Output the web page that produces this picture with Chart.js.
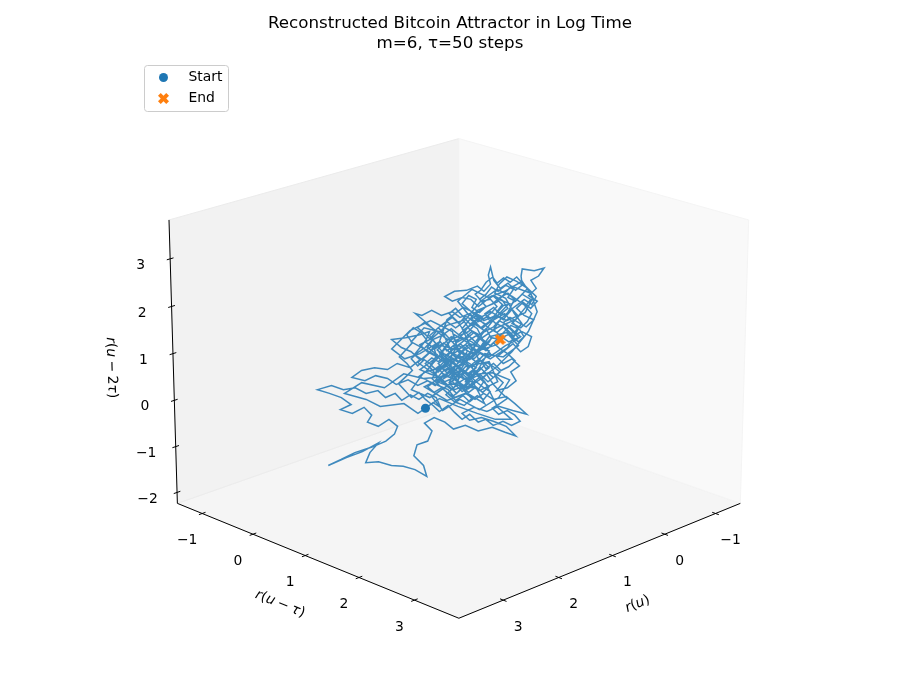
<!DOCTYPE html>
<html>
<head>
<meta charset="utf-8">
<script src="https://cdn.jsdelivr.net/npm/chart.js@4.4.1/dist/chart.umd.min.js"></script>
<style>
html,body{margin:0;padding:0;background:#ffffff;}
#wrap{position:relative;width:900px;height:700px;}
</style>
</head>
<body>
<div id="wrap"><canvas id="chart"></canvas></div>
<script>
// ---------------- data (delay embedding: r(u), r(u-tau), r(u-2tau)) ----------------
const ru = [1.45,1.38,1.31,1.35,1.43,1.51,1.59,1.67,1.73,1.82,1.89,2.00,2.10,2.21,2.32,2.45,2.34,2.23,2.14,2.24,
2.13,2.02,1.95,1.99,1.89,1.79,1.71,1.74,1.82,1.95,2.11,2.24,2.36,2.19,2.04,1.89,1.97,2.01,1.89,1.77,
1.66,1.55,1.44,1.47,1.56,1.53,1.43,1.39,1.46,1.37,1.27,1.19,1.08,0.96,0.83,0.71,0.61,0.70,0.82,0.93,
1.04,1.11,1.00,0.88,0.77,0.64,0.51,0.62,0.70,0.82,0.91,0.99,1.08,1.18,1.24,1.33,1.43,1.52,1.61,1.72,
1.80,1.91,2.01,2.13,2.04,1.92,1.80,1.71,1.59,1.50,1.58,1.67,1.76,1.63,1.50,1.41,1.45,1.36,1.28,1.20,
1.26,1.33,1.26,1.17,1.10,1.19,1.28,1.34,1.25,1.15,1.07,0.99,1.06,0.98,1.07,1.15,1.08,1.01,0.95,1.02,
1.11,1.20,1.26,1.33,1.25,1.17,1.09,1.04,0.95,0.89,0.84,0.91,0.85,0.93,0.86,0.94,0.87,0.80,0.73,0.79,
0.69,0.61,0.66,0.58,0.65,0.73,0.79,0.71,0.64,0.57,0.50,0.47,0.56,0.64,0.71,0.80,0.87,0.96,1.04,1.13,
1.20,1.30,1.39,1.48,1.54,1.43,1.35,1.41,1.50,1.43,1.34,1.42,1.50,1.41,1.32,1.22,1.13,1.18,1.26,1.18,
1.09,1.02,1.10,1.04,1.15,1.23,1.16,1.22,1.14,1.06,1.11,1.03,0.95,0.98,0.91,0.98,1.07,1.18,1.27,1.32,
1.25,1.33,1.40,1.34,1.43,1.38,1.30,1.21,1.14,1.08,1.00,0.93,0.85,0.90,0.82,0.76,0.69,0.74,0.82,0.89,
0.96,1.03,1.11,1.20,1.27,1.18,1.07,0.97,0.91,0.85,0.87,0.85,0.82,0.76,0.69,0.62,0.56,0.57,0.56,0.45,
0.36,0.41,0.48,0.43,0.50,0.42,0.48,0.55,0.61,0.54,0.45,0.52,0.59,0.67,0.73,0.66,0.59,0.68,0.76,0.82,
0.76,0.69,0.63,0.69,0.76,0.83,0.92,0.99,0.91,0.82,0.73,0.65,0.57,0.51,0.61,0.70,0.77,0.81,0.71,0.63,
0.56,0.62,0.71,0.79,
1.04,1.20,1.12,1.28,1.06,0.86,0.98,1.16,1.31,1.46,1.25,1.06,0.90,1.02,1.22,1.37,1.52,1.33,1.12,0.96,
1.08,0.95,0.78,0.86,1.08,1.24,1.41,1.58,1.46,1.26,1.16,1.00,0.87,1.04,1.20,1.29,1.46,1.58,1.38,1.18,
1.04,0.83,0.67,0.77,0.95,1.13,1.29,1.39,1.22,1.01,1.15,1.33,1.21,1.05,0.93,1.10,1.25,1.32,1.50,1.64,
1.76,1.59,1.40,1.20,1.12,1.24,1.47,1.65,1.83,2.04,2.20,2.00,1.87,1.65,1.52,1.32,1.15,0.97,0.80,0.65,
0.78,0.90,1.02,0.90,0.73,0.59,0.70,0.86,0.96,1.10,1.28,1.39,1.25,1.08,0.94,0.79,0.65,0.52,0.62,0.79,
0.95,1.07,1.19,1.03,0.85,0.70,0.53,0.46,0.56,0.72,0.87,1.02,1.15,1.06,0.89,0.72,0.59,0.69,0.85,1.02,
1.11,0.97,0.79,0.66,0.48,0.42,0.50,0.65,0.79,0.95,1.11,1.20,1.08,0.93,0.82,0.68,0.81,
0.74,0.79,0.70,0.65,0.59,0.65,0.57,0.51,0.47,0.53,0.48,0.56,0.62,0.69,0.64,0.71,0.78,0.84,0.89,0.95,
0.89,0.95,1.02,0.98,1.05,1.11,1.04,0.95,0.87,0.79,0.73,0.67,0.59,0.54,0.58,0.66,0.72,0.78,0.85,0.92,
0.97,1.05,1.11,1.17,1.23,1.16,1.10,1.03,0.96,0.89,0.82,0.76,0.69,0.62,0.68,0.75,0.82,0.89,0.95,1.01,
1.08,1.14,1.20,1.27,1.33,1.26,1.20,1.13,1.19,1.25,1.31,1.37,1.34,1.41,1.35,1.29,1.21,1.15,1.08,1.03,
0.96,0.91,0.97,1.04,1.10,1.05,1.11,1.17,1.22,1.30,1.36,1.43,1.37,1.30,1.23,1.17,1.10,1.04,0.97,0.91,
0.85,0.92,0.98,1.05,1.12,1.19,1.24,1.18,1.11,1.05,0.98,1.03,1.09,1.16,1.22,1.29,1.34,1.28,1.21,1.15,
1.08,1.02,0.95,1.00,1.07,1.13,1.20,1.26,1.33,1.39,1.45,1.38,1.32,1.25,1.19,1.12,1.06,1.00,0.94,0.88,
0.82,0.76,0.69,0.76,0.83,0.77,0.69,0.62,0.57,0.65,0.73,0.82,0.89,0.96,1.04,1.11,1.18,1.24,1.32,1.38,
1.45,1.51,1.58,1.64,1.70,1.63,1.57,1.62,1.69,1.63,1.57,1.62,1.56,1.49,1.44,1.49,1.55,1.48,1.42,1.35,
1.41,1.34,1.28,1.20,1.14,1.08,1.00,0.94,0.86,0.80,
0.73,0.67,0.60,0.54,0.47,0.43,0.49,0.55,0.61,0.67,0.73,0.79,0.83,0.89,0.94,0.99,0.93,0.85,0.79,0.84,
0.91,0.97,1.03,0.96,0.90,0.82,0.77,0.69,0.63,0.57,0.64,0.71,0.79,0.86,0.94,1.00,1.07,1.13,1.20,1.26,
1.32,1.27,1.21,1.28,1.33,1.27,1.20,1.14,1.08,1.01,0.95,0.99,1.06,1.12,1.18,1.23,1.18,1.11,1.05,0.98,
0.92,0.86,0.93,0.87,0.82,0.76,0.82,0.88,0.95,1.01,1.08,1.14,1.20,1.27,1.33,1.39,1.33,1.27,1.20,1.14,
1.08,1.02,1.08,1.14,1.20,1.27,1.33,1.40,1.46,1.52,1.46,1.39,1.45,1.51,1.58,1.52,1.46,1.39,1.45,1.51,
1.44,1.36,1.30,1.22,1.15,1.08,1.00,0.93,0.86,
0.84,0.76];
const ruTau = [0.83,0.90,0.97,0.93,0.85,0.77,0.69,0.61,0.55,0.46,0.39,0.28,0.18,0.07,-0.04,-0.17,-0.06,0.05,0.14,0.04,
0.15,0.26,0.33,0.29,0.39,0.49,0.57,0.54,0.46,0.33,0.17,0.04,-0.08,0.09,0.24,0.39,0.31,0.27,0.39,0.51,
0.62,0.73,0.84,0.81,0.72,0.75,0.85,0.89,0.82,0.91,1.01,1.09,1.20,1.32,1.45,1.57,1.67,1.58,1.46,1.35,
1.24,1.17,1.28,1.40,1.51,1.64,1.77,1.66,1.58,1.46,1.37,1.29,1.20,1.10,1.04,0.95,0.85,0.76,0.67,0.56,
0.48,0.37,0.27,0.15,0.24,0.36,0.48,0.57,0.69,0.78,0.70,0.61,0.52,0.65,0.78,0.87,0.83,0.92,1.00,1.08,
1.02,0.95,1.02,1.11,1.18,1.09,1.00,0.94,1.03,1.13,1.21,1.29,1.22,1.30,1.21,1.13,1.20,1.27,1.33,1.26,
1.17,1.08,1.02,0.95,1.03,1.11,1.19,1.24,1.33,1.39,1.44,1.37,1.43,1.35,1.42,1.34,1.41,1.48,1.55,1.49,
1.59,1.67,1.62,1.70,1.63,1.55,1.49,1.57,1.64,1.71,1.78,1.81,1.72,1.64,1.57,1.48,1.41,1.32,1.24,1.15,
1.08,0.98,0.89,0.80,0.74,0.85,0.93,0.87,0.78,0.85,0.94,0.86,0.78,0.87,0.96,1.06,1.15,1.10,1.02,1.10,
1.19,1.26,1.18,1.24,1.13,1.05,1.12,1.06,1.14,1.22,1.17,1.25,1.33,1.30,1.37,1.30,1.21,1.10,1.01,0.96,
1.03,0.95,0.88,0.94,0.85,0.90,0.98,1.07,1.14,1.20,1.28,1.35,1.43,1.38,1.46,1.52,1.59,1.54,1.46,1.39,
1.32,1.25,1.17,1.08,1.01,1.10,1.21,1.31,1.37,1.43,1.41,1.43,1.46,1.52,1.59,1.66,1.72,1.71,1.72,1.83,
1.92,1.87,1.80,1.85,1.78,1.86,1.80,1.73,1.67,1.74,1.83,1.76,1.69,1.61,1.55,1.62,1.69,1.60,1.52,1.46,
1.52,1.59,1.65,1.59,1.52,1.45,1.36,1.29,1.37,1.46,1.55,1.63,1.71,1.77,1.67,1.58,1.51,1.47,1.57,1.65,
1.72,1.66,1.57,1.49,
1.24,1.08,1.16,1.00,1.22,1.42,1.30,1.12,0.97,0.82,1.03,1.22,1.38,1.26,1.06,0.91,0.76,0.95,1.16,1.32,
1.20,1.33,1.50,1.42,1.20,1.04,0.87,0.70,0.82,1.02,1.12,1.28,1.41,1.24,1.08,0.99,0.82,0.70,0.90,1.10,
1.24,1.45,1.61,1.51,1.33,1.15,0.99,0.89,1.06,1.27,1.13,0.95,1.07,1.23,1.35,1.18,1.03,0.96,0.78,0.64,
0.52,0.69,0.88,1.08,1.16,1.04,0.81,0.63,0.45,0.24,0.08,0.28,0.41,0.63,0.76,0.96,1.13,1.31,1.48,1.63,
1.50,1.38,1.26,1.38,1.55,1.69,1.58,1.42,1.32,1.18,1.00,0.89,1.03,1.20,1.34,1.49,1.63,1.76,1.66,1.49,
1.33,1.21,1.09,1.25,1.43,1.58,1.75,1.82,1.72,1.56,1.41,1.26,1.13,1.22,1.39,1.56,1.69,1.59,1.43,1.26,
1.17,1.31,1.49,1.62,1.80,1.86,1.78,1.63,1.49,1.33,1.17,1.08,1.20,1.35,1.46,1.60,1.47,
1.54,1.49,1.58,1.63,1.69,1.63,1.71,1.77,1.81,1.75,1.80,1.72,1.66,1.59,1.64,1.57,1.50,1.44,1.39,1.33,
1.39,1.33,1.26,1.30,1.23,1.17,1.24,1.33,1.41,1.49,1.55,1.61,1.69,1.74,1.70,1.62,1.56,1.50,1.43,1.36,
1.31,1.23,1.17,1.11,1.05,1.12,1.18,1.25,1.32,1.39,1.46,1.52,1.59,1.66,1.60,1.53,1.46,1.39,1.33,1.27,
1.20,1.14,1.08,1.01,0.95,1.02,1.08,1.15,1.09,1.03,0.97,0.91,0.94,0.87,0.93,0.99,1.07,1.13,1.20,1.25,
1.32,1.37,1.31,1.24,1.18,1.23,1.17,1.11,1.06,0.98,0.92,0.85,0.91,0.98,1.05,1.11,1.18,1.24,1.31,1.37,
1.43,1.36,1.30,1.23,1.16,1.09,1.04,1.10,1.17,1.23,1.30,1.25,1.19,1.12,1.06,0.99,0.94,1.00,1.07,1.13,
1.20,1.26,1.33,1.28,1.21,1.15,1.08,1.02,0.95,0.89,0.83,0.90,0.96,1.03,1.09,1.16,1.22,1.28,1.34,1.40,
1.46,1.52,1.59,1.52,1.45,1.51,1.59,1.66,1.71,1.63,1.55,1.46,1.39,1.32,1.24,1.17,1.10,1.04,0.96,0.90,
0.83,0.77,0.70,0.64,0.58,0.65,0.71,0.66,0.59,0.65,0.71,0.66,0.72,0.79,0.84,0.79,0.73,0.80,0.86,0.93,
0.87,0.94,1.00,1.08,1.14,1.20,1.28,1.34,1.42,1.48,
1.55,1.61,1.68,1.74,1.81,1.85,1.79,1.73,1.67,1.61,1.55,1.49,1.45,1.39,1.34,1.29,1.35,1.43,1.49,1.44,
1.37,1.31,1.25,1.32,1.38,1.46,1.51,1.59,1.65,1.71,1.64,1.57,1.49,1.42,1.34,1.28,1.21,1.15,1.08,1.02,
0.96,1.01,1.07,1.00,0.95,1.01,1.08,1.14,1.20,1.27,1.33,1.29,1.22,1.16,1.10,1.05,1.10,1.17,1.23,1.30,
1.36,1.42,1.35,1.41,1.46,1.52,1.46,1.40,1.33,1.27,1.20,1.14,1.08,1.01,0.95,0.89,0.95,1.01,1.08,1.14,
1.20,1.26,1.20,1.14,1.08,1.01,0.95,0.88,0.82,0.76,0.82,0.89,0.83,0.77,0.70,0.76,0.82,0.89,0.83,0.77,
0.84,0.92,0.98,1.06,1.13,1.20,1.28,1.35,1.42,
1.44,1.52];
const ru2Tau = [-0.17,-0.05,-0.15,0.06,0.15,0.02,0.12,0.00,0.15,0.06,0.21,0.15,0.27,0.23,0.32,0.23,0.15,0.06,-0.09,-0.20,
-0.28,-0.15,-0.32,-0.47,-0.56,-0.41,-0.56,-0.73,-0.88,-1.01,-1.13,-1.28,-1.41,-1.24,-1.11,-0.92,-1.13,-1.35,-1.33,-1.41,
-1.43,-1.50,-1.65,-1.41,-1.20,-0.96,-0.88,-0.66,-0.49,-0.37,-0.47,-0.62,-0.54,-0.66,-0.58,-0.69,-0.77,-0.56,-0.45,-0.37,
-0.43,-0.28,-0.15,-0.24,-0.13,-0.22,-0.30,-0.07,0.08,0.02,0.15,0.02,0.15,0.06,0.23,0.32,0.42,0.32,0.44,0.34,
0.47,0.53,0.42,0.49,0.64,0.70,0.66,0.79,0.70,0.87,1.04,1.13,1.30,1.34,1.40,1.47,1.25,1.10,1.23,1.08,
0.91,0.79,0.64,0.74,0.59,0.47,0.53,0.40,0.32,0.38,0.27,0.42,0.57,0.70,0.83,0.93,1.10,0.98,1.13,1.25,
1.34,1.25,1.40,1.55,1.68,1.55,1.68,1.51,1.40,1.53,1.32,1.17,1.00,0.85,0.70,0.55,0.40,0.53,0.38,0.21,
0.27,0.42,0.61,0.74,0.89,0.79,0.93,1.08,1.21,1.04,1.15,1.36,1.47,1.38,1.55,1.64,1.79,1.68,1.85,1.77,
1.89,1.81,1.92,1.81,1.85,1.64,1.47,1.30,1.19,1.04,0.93,0.79,0.66,0.57,0.49,0.61,0.51,0.29,0.12,-0.03,
-0.11,0.04,0.23,0.40,0.53,0.76,0.89,1.04,1.17,1.06,0.87,0.72,0.83,1.00,1.25,1.38,1.25,1.40,1.13,0.96,
0.79,0.61,0.76,0.98,1.13,1.30,1.38,1.53,1.40,1.53,1.64,1.53,1.68,1.85,1.98,1.83,1.96,2.13,2.23,2.13,
2.00,2.15,2.19,2.11,2.21,2.32,2.34,2.43,2.32,2.47,2.66,2.83,2.55,2.38,2.49,2.34,2.45,2.64,2.79,2.75,
2.81,2.64,2.55,2.38,2.23,2.11,1.96,2.09,1.96,1.81,1.72,1.57,1.66,1.77,1.66,1.51,1.34,1.25,1.38,1.51,
1.72,1.87,2.15,2.28,2.19,2.06,1.96,1.83,1.70,1.79,2.02,2.06,2.23,2.38,2.53,2.62,2.47,2.28,2.17,1.85,
1.64,1.47,1.38,1.19,
1.00,0.57,0.34,0.83,1.23,1.06,0.59,0.15,0.47,0.29,0.00,0.15,-0.07,0.44,0.89,0.57,0.81,1.19,1.06,0.79,
0.40,0.21,0.40,0.83,0.72,0.32,0.06,0.23,0.61,0.72,1.15,1.45,1.21,0.87,1.00,1.45,1.55,1.25,1.00,0.79,
0.55,0.59,0.44,0.06,-0.20,0.02,-0.22,0.08,0.36,0.27,0.61,0.91,1.30,1.47,1.79,1.98,1.72,1.25,1.00,0.89,
1.10,1.49,1.70,1.47,0.89,0.51,0.47,0.57,0.27,0.38,0.15,0.02,-0.13,-0.07,-0.28,0.04,-0.13,-0.28,-0.41,-0.41,
-0.15,0.40,0.70,1.00,0.93,1.17,1.45,1.36,1.04,0.79,1.00,1.32,1.60,1.72,2.11,2.36,2.21,2.00,1.72,1.55,
1.30,0.93,1.15,1.64,1.89,1.70,1.87,2.19,2.53,2.32,2.19,2.36,2.11,1.85,1.62,1.85,1.53,1.13,0.89,1.10,
1.53,1.92,2.09,2.43,2.28,1.89,1.47,1.04,0.72,0.44,0.19,0.40,0.81,1.40,1.72,2.06,2.19,
2.04,1.89,1.81,1.94,1.79,1.64,1.55,1.68,1.85,2.00,2.15,2.26,2.11,2.19,2.36,2.45,2.32,2.41,2.26,2.15,
2.00,1.87,1.98,2.15,2.23,2.06,1.92,1.72,1.55,1.45,1.57,1.40,1.25,1.36,1.51,1.60,1.47,1.32,1.17,1.30,
1.53,1.66,1.81,1.96,1.85,1.70,1.51,1.34,1.19,1.06,1.23,1.10,1.00,0.85,0.72,0.64,0.79,0.68,0.89,0.79,
0.61,0.47,0.66,0.51,0.70,0.87,0.79,1.00,1.17,1.06,1.25,1.13,0.89,0.72,0.55,0.38,0.23,0.34,0.19,0.34,
0.23,0.40,0.53,0.44,0.55,0.72,0.81,0.64,0.49,0.59,0.42,0.29,0.17,0.27,0.12,0.00,0.10,-0.03,0.10,0.02,
0.19,0.29,0.40,0.25,0.36,0.51,0.68,0.87,1.06,1.19,1.08,0.93,0.83,0.72,0.85,0.98,1.08,1.21,1.36,1.25,
1.34,1.47,1.36,1.21,1.10,1.21,1.08,0.96,0.83,0.91,0.79,0.64,0.74,0.59,0.70,0.55,0.40,0.59,0.70,0.55,
0.34,0.19,0.04,-0.07,-0.17,-0.30,-0.22,-0.32,-0.45,-0.54,-0.45,-0.54,-0.41,-0.47,-0.30,-0.41,-0.26,-0.11,-0.24,-0.11,
0.02,0.17,0.06,0.21,0.36,0.51,0.64,0.79,0.93,1.08,1.23,1.40,1.55,1.45,1.30,1.15,0.98,0.87,1.00,1.21,
1.38,1.53,1.64,1.77,1.64,1.79,1.70,1.55,1.68,1.81,
1.72,1.92,2.04,2.15,2.04,2.21,2.34,2.47,2.62,2.51,2.60,2.49,2.62,2.51,2.34,2.26,2.11,2.15,2.00,1.87,
1.74,1.83,1.72,1.60,1.47,1.57,1.70,1.60,1.47,1.36,1.25,1.17,1.04,0.93,1.02,0.89,1.00,0.89,0.98,1.10,
1.02,0.87,0.74,0.64,0.51,0.40,0.47,0.38,0.47,0.38,0.49,0.64,0.55,0.66,0.57,0.38,0.23,0.29,0.17,0.29,
0.17,0.29,0.44,0.59,0.49,0.61,0.72,0.81,0.64,0.51,0.32,0.19,0.08,0.21,0.34,0.47,0.64,0.76,0.89,0.81,
0.91,1.06,1.19,1.10,1.25,1.34,1.45,1.57,1.66,1.55,1.43,1.28,1.13,1.04,0.89,0.74,0.87,0.76,0.61,0.51,
0.44,0.32,0.44,0.55,0.70,0.81,1.00,1.13,1.25,
1.34,1.30];

const xTicks = [-1, 0, 1, 2, 3];
const yTicks = [-1, 0, 1, 2, 3];
const zTicks = [-2, -1, 0, 1, 2, 3];
const xLim = [-1.5, 3.78];
const yLim = [-1.5, 3.78];
const zLim = [-2.24, 3.81];
const titleLines = ['Reconstructed Bitcoin Attractor in Log Time', 'm=6, τ=50 steps'];
const legendLabels = ['Start', 'End'];
// math-style axis titles: [text, italic?]
const xTitle = [['r',1],['(',0],['u',1],[')',0]];
const yTitle = [['r',1],['(',0],['u',1],['\u2005\u2212\u2005',0],['τ',1],[')',0]];
const zTitle = [['r',1],['(',0],['u',1],['\u2005\u2212\u2005',0],['2',0],['τ',1],[')',0]];

// ---------------- view / style ----------------
const BLUE = '#1f77b4', ORANGE = '#ff7f0e';
const FONT = '"DejaVu Sans", "Liberation Sans", sans-serif';
const VIEW = { elev: 20, azim: 45, dist: 10, cx: 459, cy: 364, scale: 359, W: 900, H: 700 };
const BOX = (function(){ const a=[4,4,3]; const n=Math.hypot(a[0],a[1],a[2]); return a.map(v=>v*1.8294640721620434/n); })();

function project(x, y, z) {
  const X = (x - (xLim[0]+xLim[1])/2) / (xLim[1]-xLim[0]) * BOX[0];
  const Y = (y - (yLim[0]+yLim[1])/2) / (yLim[1]-yLim[0]) * BOX[1];
  const Z = (z - (zLim[0]+zLim[1])/2) / (zLim[1]-zLim[0]) * BOX[2];
  const e = VIEW.elev*Math.PI/180, a = VIEW.azim*Math.PI/180;
  const ce=Math.cos(e), se=Math.sin(e), ca=Math.cos(a), sa=Math.sin(a);
  const xu = -sa*X + ca*Y;
  const yv = -se*ca*X - se*sa*Y + ce*Z;
  const d = ce*ca*X + ce*sa*Y + se*Z;
  const k = VIEW.dist/(VIEW.dist - d);
  return { x: xu*k, y: yv*k };
}

const pts = ru.map((v,i)=>project(v, ruTau[i], ru2Tau[i]));

function makeXMarker(size, color) {
  const c = document.createElement('canvas');
  c.width = size; c.height = size;
  const g = c.getContext('2d');
  const v = [[-1,-2],[0,-1],[1,-2],[2,-1],[1,0],[2,1],[1,2],[0,1],[-1,2],[-2,1],[-1,0],[-2,-1]];
  const s = size/4;
  g.beginPath();
  v.forEach((p,i)=>{ const px=size/2+p[0]*s, py=size/2+p[1]*s; if(i===0) g.moveTo(px,py); else g.lineTo(px,py); });
  g.closePath();
  g.fillStyle = color; g.fill();
  return c;
}
const xMarker = makeXMarker(11, ORANGE);

function drawRich(ctx, runs, cx, cy, angle, size) {
  ctx.save();
  ctx.translate(cx, cy);
  ctx.rotate(angle);
  ctx.textBaseline = 'middle';
  ctx.textAlign = 'left';
  ctx.fillStyle = '#000';
  const widths = runs.map(r => { ctx.font = (r[1]?'italic ':'') + size + 'px ' + FONT; return ctx.measureText(r[0]).width; });
  const total = widths.reduce((a,b)=>a+b,0);
  let x = -total/2;
  runs.forEach((r,i)=>{ ctx.font = (r[1]?'italic ':'') + size + 'px ' + FONT; ctx.fillText(r[0], x, 0); x += widths[i]; });
  ctx.restore();
}
function normAngle(a) {
  while (a > Math.PI/2) a -= Math.PI;
  while (a <= -Math.PI/2) a += Math.PI;
  return a;
}
function fmt(v) { return v < 0 ? '\u2212' + Math.abs(v) : String(v); }

const axes3d = {
  id: 'axes3d',
  beforeDatasetsDraw(chart) {
    const ctx = chart.ctx;
    const sx = chart.scales.x, sy = chart.scales.y;
    const P = (x,y,z) => { const p = project(x,y,z); return [sx.getPixelForValue(p.x), sy.getPixelForValue(p.y)]; };
    const [x0,x1] = xLim, [y0,y1] = yLim, [z0,z1] = zLim;
    ctx.save();
    function poly(ps, fill, stroke) {
      ctx.beginPath();
      ps.forEach((p,i)=> i ? ctx.lineTo(p[0],p[1]) : ctx.moveTo(p[0],p[1]));
      ctx.closePath();
      ctx.fillStyle = fill; ctx.fill();
      ctx.strokeStyle = stroke; ctx.lineWidth = 1; ctx.stroke();
    }
    poly([P(x0,y0,z0),P(x1,y0,z0),P(x1,y1,z0),P(x0,y1,z0)], 'rgb(245,245,245)', 'rgb(239,239,239)');
    poly([P(x0,y0,z0),P(x1,y0,z0),P(x1,y0,z1),P(x0,y0,z1)], 'rgb(242,242,242)', 'rgb(235,235,235)');
    poly([P(x0,y0,z0),P(x0,y1,z0),P(x0,y1,z1),P(x0,y0,z1)], 'rgb(249,249,249)', 'rgb(244,244,244)');

    function seg(a,b,w,col){ ctx.beginPath(); ctx.moveTo(a[0],a[1]); ctx.lineTo(b[0],b[1]); ctx.lineWidth=w; ctx.strokeStyle=col; ctx.stroke(); }
    seg(P(x1,y1,z0), P(x0,y1,z0), 1, '#000');
    seg(P(x1,y0,z0), P(x1,y1,z0), 1, '#000');
    seg(P(x1,y0,z0), P(x1,y0,z1), 1, '#000');

    const tickFont = '13.9px ' + FONT;
    function tick(base, dirPt, lab, off) {
      let dx = dirPt[0]-base[0], dy = dirPt[1]-base[1];
      const L = Math.hypot(dx,dy); dx/=L; dy/=L;
      seg([base[0]-dx*3.5, base[1]-dy*3.5], [base[0]+dx*3.5, base[1]+dy*3.5], 1, '#000');
      ctx.font = tickFont; ctx.fillStyle = '#000'; ctx.textAlign = 'center'; ctx.textBaseline = 'middle';
      ctx.fillText(lab, base[0]+off[0], base[1]+off[1]);
    }
    const dX = (x1-x0)*0.05, dY = (y1-y0)*0.05;
    xTicks.forEach(v => tick(P(v,y1,z0), P(v,y1+dY,z0), fmt(v), [15,27]));
    yTicks.forEach(v => tick(P(x1,v,z0), P(x1+dX,v,z0), fmt(v), [-15,27]));
    zTicks.forEach(v => tick(P(x1,y0,v), P(x1+dX,y0,v), fmt(v), [-29.5,6.5]));

    const xm = (x0+x1)/2, ym = (y0+y1)/2, zm = (z0+z1)/2;
    let a = P(x0,y1,z0), b = P(x1,y1,z0), m = P(xm,y1,z0);
    drawRich(ctx, xTitle, m[0]+32.5, m[1]+45.5, normAngle(Math.atan2(b[1]-a[1], b[0]-a[0])), 13.9);
    a = P(x1,y0,z0); b = P(x1,y1,z0); m = P(x1,ym,z0);
    drawRich(ctx, yTitle, m[0]-32.5, m[1]+45.5, normAngle(Math.atan2(b[1]-a[1], b[0]-a[0])), 13.9);
    a = P(x1,y0,z0); b = P(x1,y0,z1); m = P(x1,y0,zm);
    drawRich(ctx, zTitle, m[0]-62, m[1]+4, normAngle(Math.atan2(b[1]-a[1], b[0]-a[0])), 13.9);
    ctx.restore();
  },
  afterDraw(chart) {
    const ctx = chart.ctx;
    ctx.save();
    ctx.fillStyle = '#000'; ctx.textAlign = 'center'; ctx.textBaseline = 'middle';
    ctx.font = '16.7px ' + FONT;
    ctx.fillText(titleLines[0], 450, 23.5);
    ctx.fillText(titleLines[1], 450, 43.5);
    const lx = 144.5, ly = 65.5, lw = 84, lh = 46, r = 3;
    ctx.beginPath();
    ctx.moveTo(lx+r, ly); ctx.lineTo(lx+lw-r, ly); ctx.quadraticCurveTo(lx+lw, ly, lx+lw, ly+r);
    ctx.lineTo(lx+lw, ly+lh-r); ctx.quadraticCurveTo(lx+lw, ly+lh, lx+lw-r, ly+lh);
    ctx.lineTo(lx+r, ly+lh); ctx.quadraticCurveTo(lx, ly+lh, lx, ly+lh-r);
    ctx.lineTo(lx, ly+r); ctx.quadraticCurveTo(lx, ly, lx+r, ly);
    ctx.closePath();
    ctx.fillStyle = 'rgba(255,255,255,0.8)'; ctx.fill();
    ctx.strokeStyle = '#cccccc'; ctx.lineWidth = 1; ctx.stroke();
    ctx.beginPath(); ctx.arc(163.5, 77.5, 4.5, 0, Math.PI*2); ctx.fillStyle = BLUE; ctx.fill();
    ctx.drawImage(xMarker, 163.5 - xMarker.width/2, 98.5 - xMarker.height/2);
    ctx.fillStyle = '#000'; ctx.textAlign = 'left'; ctx.font = '13.9px ' + FONT;
    ctx.fillText(legendLabels[0], 188.5, 77.5);
    ctx.fillText(legendLabels[1], 188.5, 98.5);
    ctx.restore();
  }
};

Chart.defaults.font.family = FONT;
new Chart(document.getElementById('chart'), {
  type: 'scatter',
  data: {
    datasets: [
      { label: legendLabels[0], data: [pts[0]], pointStyle: 'circle', pointRadius: 4.5, backgroundColor: BLUE, borderColor: BLUE, borderWidth: 0, order: 0 },
      { label: legendLabels[1], data: [pts[pts.length-1]], pointStyle: xMarker, pointRadius: 6, order: 1 },
      { label: 'trajectory', data: pts, showLine: true, borderColor: 'rgba(31,119,180,0.85)', borderWidth: 1.5, pointRadius: 0, pointHoverRadius: 0, tension: 0, fill: false, order: 2 }
    ]
  },
  options: {
    responsive: true,
    maintainAspectRatio: false,
    animation: false,
    layout: { padding: 0 },
    plugins: { legend: { display: false }, tooltip: { enabled: false }, title: { display: false } },
    events: [],
    scales: {
      x: { type: 'linear', display: false, min: -VIEW.cx/VIEW.scale, max: (VIEW.W-VIEW.cx)/VIEW.scale },
      y: { type: 'linear', display: false, min: -(VIEW.H-VIEW.cy)/VIEW.scale, max: VIEW.cy/VIEW.scale }
    }
  },
  plugins: [axes3d]
});
</script>
</body>
</html>
